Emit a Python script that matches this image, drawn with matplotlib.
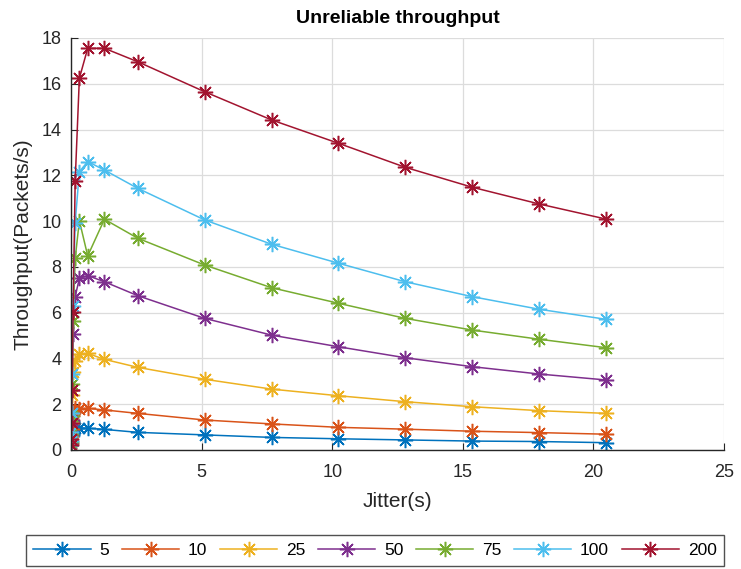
import numpy as np
import matplotlib.pyplot as plt

plt.rcParams['font.family'] = ['Liberation Sans', 'DejaVu Sans']

jitter = np.array([0.005, 0.01, 0.02, 0.04, 0.08, 0.16, 0.32, 0.64, 1.28, 2.56,
                   5.12, 7.68, 10.24, 12.8, 15.36, 17.92, 20.48])

labels = ['5', '10', '25', '50', '75', '100', '200']

tp_5 = [0.2, 0.4, 0.6, 0.8, 0.9, 0.98, 0.95, 0.95, 0.9, 0.77,
        0.66, 0.55, 0.49, 0.44, 0.39, 0.37, 0.32]
tp_10 = [0.25, 0.5, 0.9, 1.3, 1.6, 1.85, 1.8, 1.82, 1.75, 1.6,
         1.31, 1.14, 0.99, 0.91, 0.82, 0.76, 0.69]
tp_25 = [0.3, 0.6, 1.2, 2.4, 3.4, 3.9, 4.19, 4.22, 3.96, 3.61,
         3.09, 2.66, 2.37, 2.11, 1.89, 1.72, 1.6]
tp_50 = [0.3, 0.65, 1.3, 2.6, 5.07, 6.7, 7.5, 7.62, 7.35, 6.74,
         5.75, 5.02, 4.51, 4.03, 3.64, 3.32, 3.06]
tp_75 = [0.35, 0.7, 1.5, 2.9, 5.65, 8.37, 10.02, 8.48, 10.08, 9.25,
         8.08, 7.09, 6.41, 5.75, 5.24, 4.84, 4.47]
tp_100 = [0.4, 0.8, 1.6, 3.3, 6.3, 9.93, 12.16, 12.6, 12.23, 11.43,
          10.05, 8.99, 8.16, 7.35, 6.7, 6.15, 5.71]
tp_200 = [0.2, 0.5, 1.2, 2.62, 6.04, 11.75, 16.24, 17.55, 17.55, 16.96,
          15.65, 14.42, 13.4, 12.35, 11.48, 10.75, 10.09]

series = [tp_5, tp_10, tp_25, tp_50, tp_75, tp_100, tp_200]
colors = ['#0072BD', '#D95319', '#EDB120', '#7E2F8E', '#77AC30', '#4DBEEE', '#A2142F']

fig = plt.figure(figsize=(7.41, 5.69), dpi=100)
ax = fig.add_axes([71 / 741, 1 - 450 / 569, (724 - 71) / 741, (450 - 38) / 569])

# asterisk marker: eight spokes like '+' and 'x' together
star = (8, 2, 0)
for y, lab, c in zip(series, labels, colors):
    ax.plot(jitter, y, color=c, marker=star, markersize=11, linewidth=1.1,
            markeredgewidth=1.1, label=lab)

ax.set_xlim(0, 25)
ax.set_ylim(0, 18)
ax.set_xticks(np.arange(0, 26, 5))
ax.set_yticks(np.arange(0, 19, 2))
ax.grid(True, color='#dcdcdc', linewidth=0.9)
ax.set_axisbelow(True)
for s in ['top', 'right']:
    ax.spines[s].set_visible(False)
for s in ['left', 'bottom']:
    ax.spines[s].set_color('#262626')
    ax.spines[s].set_linewidth(1.0)
ax.tick_params(direction='in', length=5, labelsize=13, colors='#262626')
ax.tick_params(axis='x', pad=10)
ax.tick_params(axis='y', pad=7)

ax.set_title('Unreliable throughput', fontsize=14, fontweight='bold', pad=11)
ax.set_xlabel('Jitter(s)', fontsize=15, color='#262626', labelpad=8)
ax.set_ylabel('Throughput(Packets/s)', fontsize=15, color='#262626', labelpad=6)

leg = fig.legend(loc='center', ncol=7, bbox_to_anchor=(17 / 741, 1 - 568 / 569, 716 / 741, 35 / 569),
                 mode='expand', fontsize=12.5, handlelength=3.3, columnspacing=0.7,
                 handletextpad=0.5, fancybox=False, borderpad=0.45)
leg.get_frame().set_edgecolor('#262626')
leg.get_frame().set_linewidth(1.0)

fig.savefig('out.png', dpi=100)
